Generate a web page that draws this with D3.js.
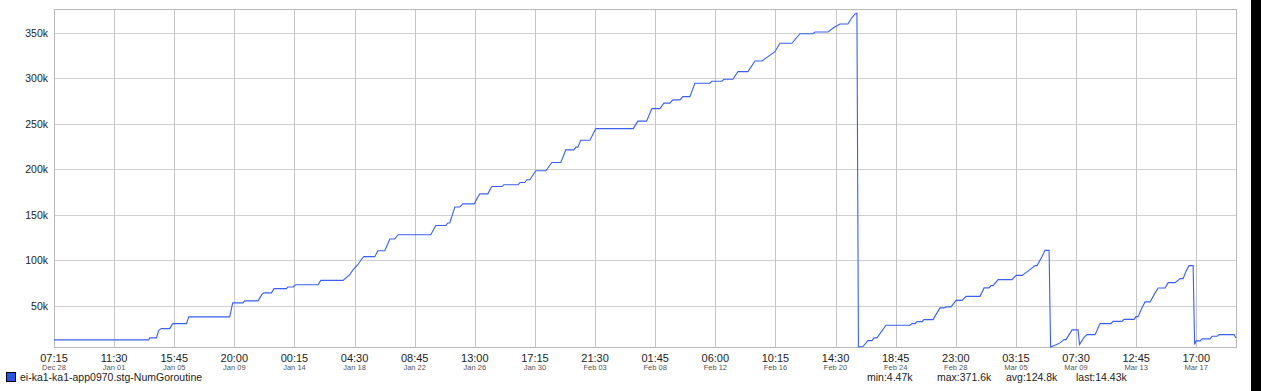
<!DOCTYPE html>
<html>
<head>
<meta charset="utf-8">
<script src="https://cdn.jsdelivr.net/npm/d3@7"></script>
<style>
  body { margin: 0; background: #fff; }
  svg { display: block; font-family: "Liberation Sans", Arial, sans-serif; }
</style>
</head>
<body>
<div id="chart"></div>
<script>
// tick labels
var timeLabels = ["07:15","11:30","15:45","20:00","00:15","04:30","08:45","13:00","17:15","21:30",
                  "01:45","06:00","10:15","14:30","18:45","23:00","03:15","07:30","12:45","17:00"];
var dateLabels = ["Dec 28","Jan 01","Jan 05","Jan 09","Jan 14","Jan 18","Jan 22","Jan 26","Jan 30","Feb 03",
                  "Feb 08","Feb 12","Feb 16","Feb 20","Feb 24","Feb 28","Mar 05","Mar 09","Mar 13","Mar 17"];
var yTicks = [50000, 100000, 150000, 200000, 250000, 300000, 350000];

// series: hours since Dec 28 07:15, value in k
var hours = [0,158,159.6,170.8,174.6,179.1,193,198,220.8,224.7,293,298,315.3,318,340.3,346.4,349.8,362.6,367,387.6,
  389.8,398.7,403.2,440.4,444.8,482,493.2,498.2,506.6,513.2,516.6,535,540,551.6,560,568.3,573.8,628.3,636.7,653.4,
  656.7,660,668.4,676.7,681.7,700.6,710,723.4,730,746.8,750.1,774,776.8,785.1,788.5,793.5,803.5,820.2,830.2,845.2,
  853.5,866.9,870.2,873.5,878.5,893.6,903.6,965.8,973.6,988.1,997,1010.3,1013.7,1017,1027,1032,1043.7,1048.7,1060.4,1068.7,
  1093.7,1097.1,1113.8,1117.1,1132.1,1140.5,1157.2,1168.9,1180.6,1190.6,1202.2,1210.5,1230.5,1243.9,1265.6,1268.9,1290.6,1300.6,1310.6,1323.9,
  1330.6,1335.6,1338.9,1341.4,1348.9,1357.3,1364,1367.3,1372.3,1387.3,1427.4,1430.7,1435.7,1439.1,1447.4,1450.7,1465.8,1477.4,1484.1,1487.5,
  1495.8,1504.2,1514.2,1520.9,1544.2,1550.9,1559.3,1562.6,1565.9,1574.3,1597.6,1604.3,1614.3,1624.3,1636,1639.3,1647.6,1652.6,1659.3,1661.8,
  1671,1677.6,1684.3,1687.6,1697.6,1707.6,1710.1,1717.6,1722.6,1736,1744.3,1762.6,1765.9,1781,1784.3,1801,1804.3,1807.7,1814.4,1819.4,
  1827.7,1836.1,1841.1,1852.8,1857.8,1869.5,1877.8,1882.8,1887.8,1892.8,1899.5,1902,1904.5,1911.2,1914.5,1927.9,1931.2,1939.5,1942.9,1967.9,1971];
var values = [12.3,12.3,14.5,14.5,22.9,24.7,24.7,30.2,30.2,37.6,37.6,53,53,55.2,55.2,62.1,64,64,68.7,68.7,
  70.5,70.5,73,73,77.8,77.8,84,89,95,101.3,103.9,103.9,110.4,110.4,123.3,123.3,128,128,138.2,138.2,
  140.9,140.9,158.5,158.5,162,162,173,173,181,181,183,183,185.5,185.5,188.5,188.5,198.4,198.4,207.5,207.5,
  221.4,221.4,224.4,224.4,232,232,244.8,244.8,253,253,266.8,266.8,269.8,272.8,272.8,276.4,276.4,280,280,294.7,
  294.7,296.9,296.9,299.1,299.1,307.5,307.5,319.2,319.2,324,329.4,338.7,338.7,349.2,349.2,351.1,351.1,356,359.9,359.9,
  367,370.9,371.6,4.47,5,11.5,11.5,14.5,14.5,28.4,28.4,30.2,30.2,32.4,32.4,34.6,34.6,47.5,47.5,48.6,
  48.6,55.8,55.8,60.2,60.2,69.5,69.5,72,72,78.6,78.6,83.3,83.3,88,94,94,104,110.8,110.8,4.47,
  7,9,12.6,12.6,23.3,23.3,7.1,15,18.1,18.1,30.2,30.2,32.7,32.7,34.9,34.9,37.9,37.9,48,54.1,
  54.1,64,69.4,69.4,75.3,75.3,79.7,79.7,88,94,94,7.1,11.2,11.2,13.4,13.4,16.3,16.3,18.1,18.1,14.43];

var seriesName = "ei-ka1-ka1-app0970.stg-NumGoroutine";
var stats = ["min:4.47k", "max:371.6k", "avg:124.8k", "last:14.43k"];

var width = 1261, height = 391;
var plotLeft = 54, plotRight = 1236, plotTop = 9, plotBottom = 347;
var tickStep = 100.25;

var svg = d3.select("#chart").append("svg")
    .attr("width", width)
    .attr("height", height);

var x = d3.scaleLinear().domain([0, 1971]).range([plotLeft, plotRight]);
var y = d3.scaleLinear().domain([4470, 376400]).range([plotBottom, plotTop]);

var xTicks = timeLabels.map((d, i) => i * tickStep);

// grid
var grid = svg.append("g").attr("shape-rendering", "crispEdges");
grid.selectAll(".hg").data(yTicks).join("line")
    .attr("x1", plotLeft).attr("x2", plotRight)
    .attr("y1", d => Math.round(y(d)) + 0.5).attr("y2", d => Math.round(y(d)) + 0.5)
    .attr("stroke", "#d0d0d0");
grid.selectAll(".vg").data(xTicks).join("line")
    .attr("x1", d => Math.round(x(d)) + 0.5).attr("x2", d => Math.round(x(d)) + 0.5)
    .attr("y1", plotTop).attr("y2", plotBottom)
    .attr("stroke", "#c4c4c4");
grid.append("rect")
    .attr("x", plotLeft + 0.5).attr("y", plotTop + 0.5)
    .attr("width", plotRight - plotLeft).attr("height", plotBottom - plotTop)
    .attr("fill", "none").attr("stroke", "#b8b8b8");

// y labels
svg.append("g").selectAll("text").data(yTicks).join("text")
    .attr("x", 48).attr("y", d => y(d) + 4)
    .attr("text-anchor", "end")
    .attr("font-size", 10.5)
    .attr("fill", "#222")
    .text(d => (d / 1000) + "k");

// x labels
var xl = svg.append("g");
xl.selectAll(".t").data(xTicks).join("text")
    .attr("x", d => x(d)).attr("y", 362)
    .attr("text-anchor", "middle")
    .attr("font-size", 11)
    .attr("fill", "#222")
    .text((d, i) => timeLabels[i]);
xl.selectAll(".d").data(xTicks).join("text")
    .attr("x", d => x(d)).attr("y", 370)
    .attr("text-anchor", "middle")
    .attr("font-size", 7.5)
    .attr("fill", "#555")
    .text((d, i) => dateLabels[i]);

// line
var pts = hours.map((h, i) => [h, values[i] * 1000]);
svg.append("path")
    .datum(pts)
    .attr("d", d3.line().x(d => x(d[0])).y(d => y(d[1])))
    .attr("fill", "none")
    .attr("stroke", "#3a5ff0")
    .attr("stroke-width", 1.1);

// legend
svg.append("rect")
    .attr("x", 6.5).attr("y", 372.5).attr("width", 9).attr("height", 9)
    .attr("fill", "#2a52e6").attr("stroke", "#000");
svg.append("text")
    .attr("x", 20).attr("y", 381)
    .attr("font-size", 10.5)
    .attr("fill", "#222")
    .text(seriesName);

var statX = [867, 937, 1006, 1076];
svg.append("g").selectAll("text").data(stats).join("text")
    .attr("x", (d, i) => statX[i]).attr("y", 381)
    .attr("font-size", 10.5)
    .attr("fill", "#222")
    .text(d => d);

// dark strip on the right edge
svg.append("rect")
    .attr("x", 1251).attr("y", 0).attr("width", 10).attr("height", height)
    .attr("fill", "#000");
</script>
</body>
</html>
